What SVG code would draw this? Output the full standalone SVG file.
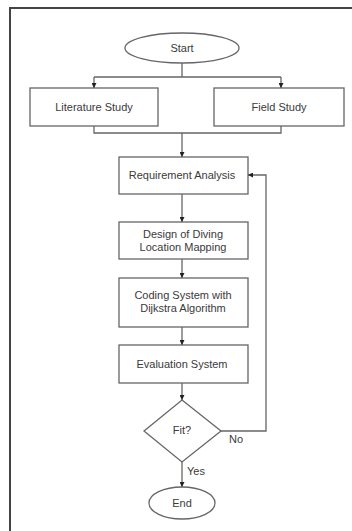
<svg xmlns="http://www.w3.org/2000/svg" width="352" height="531" viewBox="0 0 352 531">
<defs>
<marker id="ah" viewBox="0 0 10 10" refX="10" refY="5" markerWidth="5" markerHeight="5" orient="auto" markerUnits="userSpaceOnUse">
<path d="M0,0 L10,5 L0,10 z" fill="#222"/>
</marker>
</defs>
<style>
.shape{fill:#fff;stroke:#666;stroke-width:1.3}
.t{font-family:"Liberation Sans",Arial,sans-serif;font-size:11px;fill:#3a3a3a;text-anchor:middle;dominant-baseline:central}
.c{fill:none;stroke:#666;stroke-width:1.3}
.frame{fill:none;stroke:#444;stroke-width:2}
</style>
<rect width="352" height="531" fill="#fff"/>
<path class="frame" d="M10,531 V8 H352"/>
<g id="start"><ellipse class="shape" cx="182" cy="48" rx="57" ry="15"/><text class="t" x="182" y="48">Start</text></g>
<g id="literature"><rect class="shape" x="30" y="88" width="128" height="38"/><text class="t" x="94" y="107">Literature Study</text></g>
<g id="field"><rect class="shape" x="214" y="88" width="130" height="38"/><text class="t" x="279" y="107">Field Study</text></g>
<g id="requirement"><rect class="shape" x="119" y="157" width="129" height="37"/><text class="t" x="182" y="175">Requirement Analysis</text></g>
<g id="design"><rect class="shape" x="119" y="222" width="129" height="37"/><text class="t" x="183" y="233.5">Design of Diving</text><text class="t" x="183" y="247">Location Mapping</text></g>
<g id="coding"><rect class="shape" x="119" y="278" width="129" height="49"/><text class="t" x="183" y="295">Coding System with</text><text class="t" x="183" y="308">Dijkstra Algorithm</text></g>
<g id="evaluation"><rect class="shape" x="119" y="345" width="129" height="38"/><text class="t" x="182" y="364">Evaluation System</text></g>
<g id="fit"><path class="shape" d="M182,400 L221,431 L182,462 L144,431 Z"/><text class="t" x="182" y="430">Fit?</text></g>
<g id="end"><ellipse class="shape" cx="182" cy="503" rx="33" ry="16"/><text class="t" x="182" y="503">End</text></g>
<g id="connectors">
<path class="c" d="M182,63 V77 M94,77 H281"/>
<path class="c" d="M94,77 V88" marker-end="url(#ah)"/>
<path class="c" d="M281,77 V88" marker-end="url(#ah)"/>
<path class="c" d="M94,126 V133 H281 V126"/>
<path class="c" d="M182,133 V157" marker-end="url(#ah)"/>
<path class="c" d="M182,194 V222" marker-end="url(#ah)"/>
<path class="c" d="M182,259 V278" marker-end="url(#ah)"/>
<path class="c" d="M182,327 V345" marker-end="url(#ah)"/>
<path class="c" d="M182,383 V400" marker-end="url(#ah)"/>
<path class="c" d="M182,462 V487" marker-end="url(#ah)"/>
<path class="c" d="M221,431 H266 V175 H248" marker-end="url(#ah)"/>
<text class="t" x="236" y="439">No</text>
<text class="t" x="196" y="471">Yes</text>
</g>
</svg>
